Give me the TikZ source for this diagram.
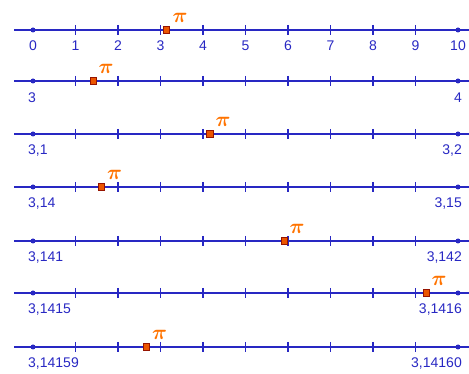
\documentclass[tikz,border=0pt]{standalone}
\usepackage{amsmath,amssymb,bm}
\usepackage{fontspec}
\setmainfont{Liberation Sans}
\usetikzlibrary{positioning}
\usepackage{xcolor}
\definecolor{axisblue}{RGB}{40,40,195}
\definecolor{pioran}{RGB}{255,115,0}
\definecolor{markred}{RGB}{150,20,0}
\definecolor{markfill}{RGB}{235,85,0}

\begin{document}
\begin{tikzpicture}[
  x=1pt, y=-1pt,
  axis/.style={draw=axisblue, line width=1.6pt},
  tick/.style={draw=axisblue, line width=1.2pt},
  dot/.style={circle, fill=axisblue, inner sep=0pt, minimum size=5pt},
  marker/.style={rectangle, draw=markred, fill=markfill, line width=0.9pt, inner sep=0pt, minimum size=6.5pt},
  pilabel/.style={text=pioran, inner sep=0pt, font=\fontsize{21}{21}\selectfont},
  numlabel/.style={text=axisblue, inner sep=0pt, font=\fontsize{14}{14}\selectfont}
]
\useasboundingbox (0,0) rectangle (469,374);

% ==================
% Row 1: 0 to 10
% ==================
\coordinate (aL) at (14,30);
\coordinate (aR) at (469,30);
\draw[axis] (aL) -- (aR);
\foreach \i in {1,...,9} {
  \draw[tick] (33+42.5*\i,25) -- (33+42.5*\i,35);
  \node[numlabel] at (33+42.5*\i,46) {\i};
}
\node[dot] (a0) at (33,30) {};
\node[dot] (a10) at (458,30) {};
\node[numlabel] at (33,46) {0};
\node[numlabel] at (458,46) {10};
\node[marker] (api) at (166.5,30) {};
\node[pilabel] at (180,18) {$\bm{\pi}$};

% ==================
% Row 2: 3 to 4
% ==================
\coordinate (bL) at (14,81);
\coordinate (bR) at (469,81);
\draw[axis] (bL) -- (bR);
\foreach \i in {1,...,9} {
  \draw[tick] (33+42.5*\i,76) -- (33+42.5*\i,86);
}
\node[dot] (b0) at (33,81) {};
\node[dot] (b10) at (458,81) {};
\node[numlabel, anchor=west] at (28,97.5) {3};
\node[numlabel, anchor=east] at (462,97.5) {4};
\node[marker] (bpi) at (93.2,81) {};
\node[pilabel] at (106,69) {$\bm{\pi}$};

% ==================
% Row 3: 3,1 to 3,2
% ==================
\coordinate (cL) at (14,134);
\coordinate (cR) at (469,134);
\draw[axis] (cL) -- (cR);
\foreach \i in {1,...,9} {
  \draw[tick] (33+42.5*\i,129) -- (33+42.5*\i,139);
}
\node[dot] (c0) at (33,134) {};
\node[dot] (c10) at (458,134) {};
\node[numlabel, anchor=west] at (28,151) {3,1};
\node[numlabel, anchor=east] at (462,151) {3,2};
\node[marker] (cpi) at (209.8,134) {};
\node[pilabel] at (223,122) {$\bm{\pi}$};

% ==================
% Row 4: 3,14 to 3,15
% ==================
\coordinate (dL) at (14,187);
\coordinate (dR) at (469,187);
\draw[axis] (dL) -- (dR);
\foreach \i in {1,...,9} {
  \draw[tick] (33+42.5*\i,182) -- (33+42.5*\i,192);
}
\node[dot] (d0) at (33,187) {};
\node[dot] (d10) at (458,187) {};
\node[numlabel, anchor=west] at (28,204) {3,14};
\node[numlabel, anchor=east] at (462,204) {3,15};
\node[marker] (dpi) at (101.6,187) {};
\node[pilabel] at (114.5,175) {$\bm{\pi}$};

% ==================
% Row 5: 3,141 to 3,142
% ==================
\coordinate (eL) at (14,241);
\coordinate (eR) at (469,241);
\draw[axis] (eL) -- (eR);
\foreach \i in {1,...,9} {
  \draw[tick] (33+42.5*\i,236) -- (33+42.5*\i,246);
}
\node[dot] (e0) at (33,241) {};
\node[dot] (e10) at (458,241) {};
\node[numlabel, anchor=west] at (28,258) {3,141};
\node[numlabel, anchor=east] at (462,258) {3,142};
\node[marker] (epi) at (284.3,241) {};
\node[pilabel] at (297,229) {$\bm{\pi}$};

% ==================
% Row 6: 3,1415 to 3,1416
% ==================
\coordinate (fL) at (14,293);
\coordinate (fR) at (469,293);
\draw[axis] (fL) -- (fR);
\foreach \i in {1,...,9} {
  \draw[tick] (33+42.5*\i,288) -- (33+42.5*\i,298);
}
\node[dot] (f0) at (33,293) {};
\node[dot] (f10) at (458,293) {};
\node[numlabel, anchor=west] at (28,310) {3,1415};
\node[numlabel, anchor=east] at (462,310) {3,1416};
\node[marker] (fpi) at (426.3,293) {};
\node[pilabel] at (439,281) {$\bm{\pi}$};

% ==================
% Row 7: 3,14159 to 3,14160
% ==================
\coordinate (gL) at (14,347);
\coordinate (gR) at (469,347);
\draw[axis] (gL) -- (gR);
\foreach \i in {1,...,9} {
  \draw[tick] (33+42.5*\i,342) -- (33+42.5*\i,352);
}
\node[dot] (g0) at (33,347) {};
\node[dot] (g10) at (458,347) {};
\node[numlabel, anchor=west] at (28,364) {3,14159};
\node[numlabel, anchor=east] at (462,364) {3,14160};
\node[marker] (gpi) at (146.6,347) {};
\node[pilabel] at (159.5,335) {$\bm{\pi}$};
\end{tikzpicture}
\end{document}
